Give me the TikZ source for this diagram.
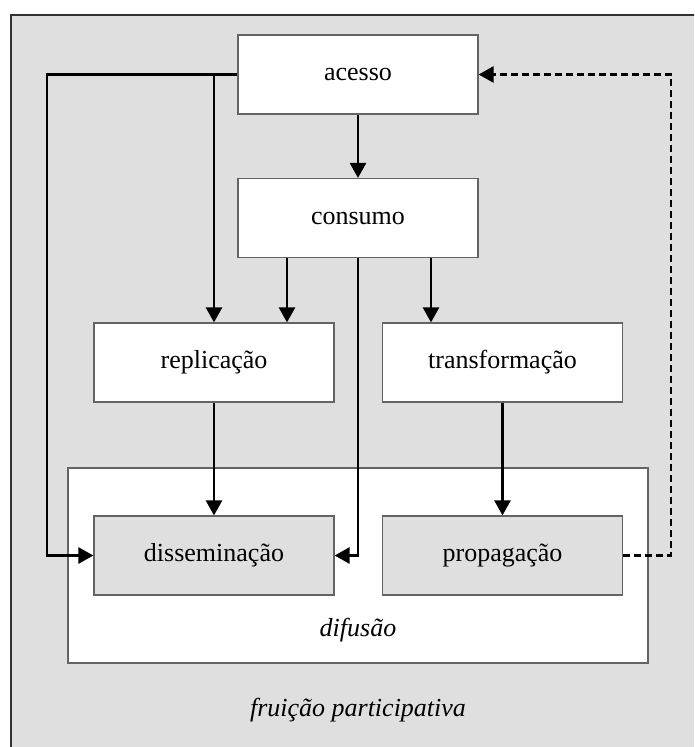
\documentclass[tikz,border=0pt]{standalone}
\usepackage{fontspec}
\setmainfont{Liberation Serif}
\usetikzlibrary{arrows.meta}
\definecolor{panelgray}{RGB}{223,223,223}
\definecolor{boxedge}{RGB}{100,100,100}
\definecolor{frameedge}{RGB}{50,50,50}
\tikzset{
  stage/.style={draw=boxedge, line width=1.2pt, fill=white, minimum width=240pt,
    minimum height=79pt, inner sep=0pt, font=\fontsize{26}{31}\selectfont},
  outcome/.style={stage, fill=panelgray},
  flow/.style={line width=2.6pt, -{Triangle[length=15pt,width=16pt]}},
  feedback/.style={flow, dash pattern=on 7pt off 4pt},
  caption/.style={font=\fontsize{26}{31}\selectfont\itshape, inner sep=0pt}
}
\begin{document}
\begin{tikzpicture}[x=1pt,y=-1pt]
  \useasboundingbox (0,0) rectangle (694,747);
  \clip (0,0) rectangle (694,747);
  \fill[white] (0,0) rectangle (694,747);
  % outer panel
  \draw[fill=panelgray, draw=frameedge, line width=1.2pt] (11,15) rectangle (720,770);
  % diffusion area
  \node[draw=boxedge, line width=1.2pt, fill=white, minimum width=580pt,
        minimum height=195pt, inner sep=0pt] (difusao) at (358,565.5) {};
  \node[caption] (difusaolbl) at (358,630) {difusão};
  \node[caption] (fruicao) at (358,710) {fruição participativa};

  % stages
  \node[stage] (acesso) at (358,74.5) {acesso};
  \node[stage] (consumo) at (358,218) {consumo};
  \node[stage] (repl) at (214,362.5) {replicação};
  \node[stage] (transf) at (502.5,362.5) {transformação};
  \node[outcome] (dissem) at (214,555.5) {disseminação};
  \node[outcome] (propag) at (502.5,555.5) {propagação};

  % routing columns
  \coordinate (colL) at (47,0);
  \coordinate (colA) at (287,0);
  \coordinate (colB) at (431,0);
  \coordinate (colR) at (671,0);

  % connectors
  \draw[flow] (acesso.south) -- (consumo.north);
  \draw[flow] (acesso.west) -- (acesso.west -| colL) |- (dissem.west);
  \draw[flow] (acesso.west -| repl.north) -- (repl.north);
  \draw[flow] (consumo.south -| colA) -- (repl.north -| colA);
  \draw[flow] (consumo.south -| colB) -- (transf.north -| colB);
  \draw[flow] (consumo.south) -- (consumo.south |- dissem.east) -- (dissem.east);
  \draw[flow] (repl.south) -- (dissem.north);
  \draw[flow] (transf.south) -- (propag.north);
  \draw[feedback] (propag.east) -- (propag.east -| colR) |- (acesso.east);
\end{tikzpicture}
\end{document}
